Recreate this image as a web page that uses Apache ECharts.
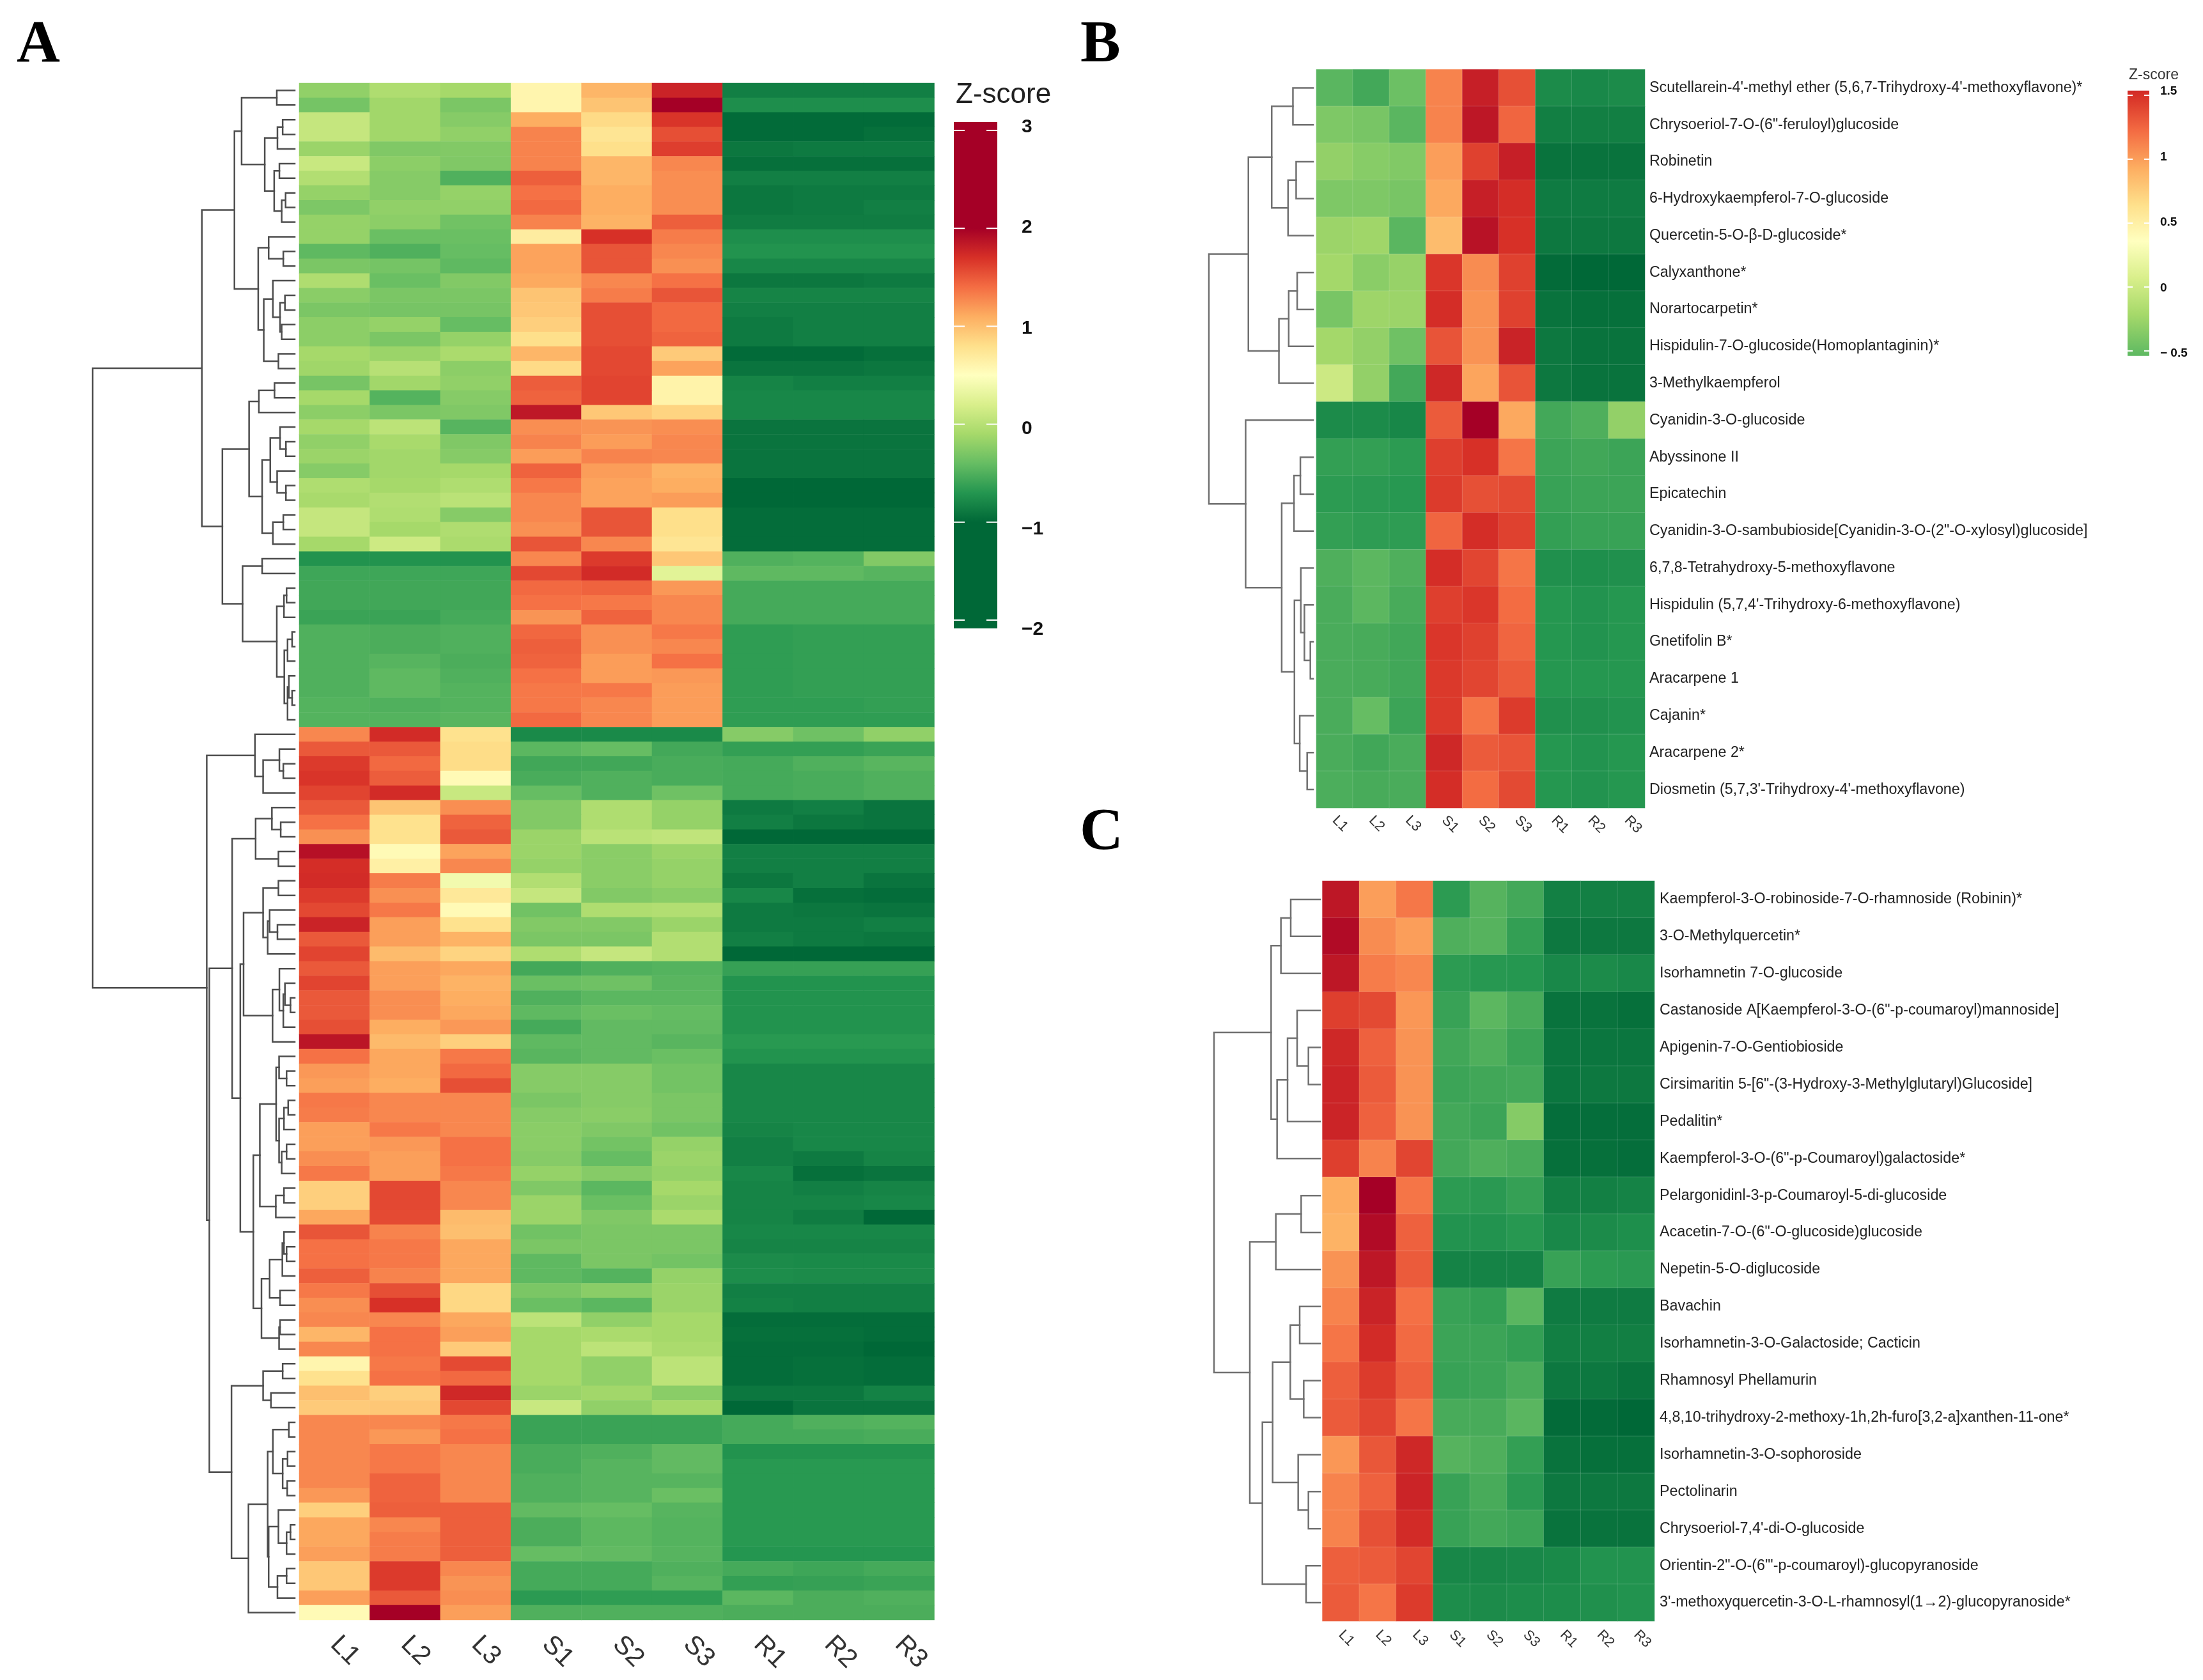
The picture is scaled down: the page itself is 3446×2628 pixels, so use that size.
<!DOCTYPE html>
<html><head><meta charset="utf-8">
<style>html,body{margin:0;padding:0;background:#fff}#c{width:3446px;height:2628px}</style>
<script src="https://cdn.jsdelivr.net/npm/echarts@6/dist/echarts.min.js"></script>
</head><body><div id="c"></div>
<script>
const samples = ['L1','L2','L3','S1','S2','S3','R1','R2','R3'];
const palette = ['#006837','#249650','#66BD63','#A6D96A','#D9EF8B','#FFFFBF','#FEE08B','#FDAE61','#F46D43','#D73027','#A50026'];

const valuesA = [
[-.2,-.05,-.1,.6,1.05,1.78,-.85,-.85,-.85],[-.33,-.12,-.3,.6,.97,2,-.75,-.75,-.75],
[.08,-.12,-.25,1.1,.83,1.68,-.98,-.98,-.98],[.08,-.12,-.2,1.3,.75,1.55,-.98,-.98,-.95],
[-.15,-.28,-.27,1.3,.8,1.63,-.9,-.88,-.88],[.1,-.22,-.28,1.3,1.05,1.28,-.95,-.95,-.95],
[-.03,-.25,-.5,1.47,1.05,1.25,-.85,-.85,-.85],[-.18,-.25,-.18,1.38,1.1,1.25,-.9,-.88,-.88],
[-.29,-.2,-.2,1.42,1.1,1.25,-.9,-.88,-.85],[-.18,-.22,-.35,1.3,1.07,1.47,-.87,-.87,-.87],
[-.18,-.38,-.38,.68,1.7,1.33,-.75,-.75,-.75],[-.43,-.5,-.4,1.15,1.52,1.28,-.72,-.72,-.72],
[-.3,-.33,-.43,1.15,1.52,1.24,-.8,-.8,-.8],[-.05,-.38,-.27,1.12,1.28,1.38,-.9,-.9,-.88],
[-.23,-.3,-.3,.97,1.33,1.52,-.82,-.82,-.82],[-.3,-.32,-.32,.95,1.55,1.42,-.85,-.85,-.85],
[-.22,-.18,-.4,.9,1.55,1.42,-.88,-.85,-.85],[-.22,-.3,-.18,.8,1.55,1.45,-.88,-.85,-.85],
[-.1,-.15,-.07,1.05,1.58,.93,-.98,-.98,-.95],[-.13,0,-.22,.83,1.58,1.15,-.92,-.92,-.9],
[-.32,-.12,-.2,1.48,1.6,.62,-.82,-.85,-.85],[-.1,-.48,-.25,1.45,1.6,.62,-.8,-.8,-.8],
[-.22,-.3,-.28,1.85,.95,.87,-.8,-.8,-.8],[-.1,.03,-.47,1.25,1.22,1.25,-.92,-.92,-.92],
[-.2,-.08,-.28,1.3,1.18,1.28,-.92,-.92,-.92],[-.15,-.12,-.25,1.18,1.3,1.28,-.92,-.92,-.92],
[-.25,-.12,-.1,1.45,1.18,1.07,-.92,-.92,-.92],[-.05,-.1,-.05,1.35,1.15,1.1,-1,-1,-1],
[-.08,-.03,.02,1.28,1.15,1.18,-1,-1,-1],[.08,-.05,-.25,1.28,1.52,.8,-.97,-.97,-.97],
[.08,-.1,-.05,1.24,1.52,.8,-.97,-.97,-.97],[-.1,.13,-.07,1.52,1.28,.75,-.97,-.97,-.97],
[-.72,-.72,-.72,1.28,1.65,.95,-.5,-.48,-.27],[-.58,-.58,-.58,1.58,1.73,.27,-.43,-.43,-.47],
[-.57,-.57,-.57,1.42,1.45,1.2,-.55,-.55,-.55],[-.57,-.57,-.57,1.38,1.35,1.28,-.55,-.55,-.55],
[-.6,-.6,-.55,1.22,1.45,1.28,-.55,-.55,-.55],[-.5,-.52,-.5,1.43,1.24,1.35,-.65,-.63,-.63],
[-.5,-.52,-.5,1.47,1.24,1.28,-.65,-.63,-.63],[-.5,-.47,-.52,1.45,1.18,1.38,-.65,-.63,-.63],
[-.5,-.43,-.5,1.38,1.18,1.2,-.65,-.63,-.63],[-.5,-.43,-.48,1.35,1.35,1.18,-.65,-.63,-.63],
[-.48,-.5,-.48,1.35,1.28,1.18,-.65,-.65,-.63],[-.48,-.48,-.46,1.42,1.28,1.18,-.65,-.65,-.65],
[1.28,1.73,.78,-.78,-.78,-.78,-.25,-.36,-.2],[1.5,1.5,.82,-.45,-.4,-.56,-.63,-.63,-.6],
[1.65,1.42,.82,-.57,-.57,-.53,-.55,-.5,-.46],[1.68,1.48,.55,-.53,-.5,-.53,-.55,-.53,-.5],
[1.6,1.73,.1,-.4,-.5,-.36,-.55,-.53,-.5],[1.5,.97,1.25,-.27,-.05,-.18,-.88,-.85,-.92],
[1.38,.78,1.45,-.27,-.05,-.18,-.85,-.9,-.92],[1.24,.78,1.5,-.15,.02,.05,-1,-1,-1],
[1.9,.55,1.15,-.15,-.23,-.15,-.85,-.85,-.85],[1.72,.65,1.28,-.18,-.23,-.18,-.85,-.85,-.85],
[1.73,1.33,.4,-.03,-.23,-.18,-.9,-.85,-.92],[1.65,1.24,.72,.08,-.27,-.23,-.8,-.95,-.97],
[1.58,1.35,.55,-.35,-.05,-.03,-.88,-.9,-.92],[1.78,1.17,.78,-.27,-.27,-.15,-.88,-.88,-.85],
[1.5,1.17,1.07,-.3,-.3,-.03,-.85,-.88,-.9],[1.6,1.02,.87,-.05,.08,-.03,-1,-1,-1],
[1.5,1.17,1.13,-.56,-.5,-.48,-.62,-.62,-.62],[1.6,1.17,1.07,-.38,-.36,-.46,-.72,-.72,-.72],
[1.5,1.25,1.1,-.5,-.45,-.45,-.72,-.72,-.72],[1.5,1.25,1.13,-.43,-.38,-.41,-.72,-.72,-.72],
[1.55,1.1,1.2,-.55,-.42,-.42,-.72,-.72,-.72],[1.87,1.03,.9,-.43,-.42,-.46,-.68,-.68,-.68],
[1.38,1.13,1.35,-.46,-.42,-.38,-.72,-.72,-.72],[1.2,1.13,1.42,-.25,-.25,-.34,-.8,-.8,-.8],
[1.17,1.1,1.55,-.25,-.25,-.34,-.8,-.8,-.8],[1.35,1.28,1.28,-.3,-.25,-.3,-.8,-.8,-.8],
[1.33,1.28,1.28,-.25,-.23,-.3,-.8,-.8,-.8],[1.17,1.35,1.28,-.23,-.28,-.35,-.82,-.8,-.8],
[1.17,1.2,1.38,-.23,-.34,-.18,-.85,-.8,-.8],[1.25,1.17,1.38,-.25,-.4,-.15,-.85,-.88,-.82],
[1.35,1.17,1.35,-.18,-.25,-.18,-.8,-.95,-.92],[.9,1.58,1.28,-.28,-.45,-.1,-.82,-.85,-.82],
[.9,1.58,1.28,-.15,-.38,-.15,-.82,-.82,-.8],[1.13,1.57,1.02,-.15,-.28,-.07,-.82,-.87,-1],
[1.52,1.3,1,-.35,-.3,-.3,-.8,-.8,-.8],[1.38,1.35,1.13,-.3,-.3,-.3,-.82,-.82,-.82],
[1.38,1.35,1.13,-.43,-.3,-.34,-.77,-.78,-.78],[1.47,1.3,1.13,-.43,-.48,-.18,-.76,-.77,-.77],
[1.35,1.55,.85,-.3,-.23,-.15,-.85,-.85,-.85],[1.25,1.7,.85,-.38,-.45,-.15,-.83,-.85,-.85],
[1.28,1.28,1.13,.03,-.2,-.1,-.97,-.97,-.97],[1.05,1.38,1.17,-.1,-.07,-.1,-.95,-.95,-.97],
[1.28,1.38,.93,-.1,.03,-.07,-.97,-.97,-1],[.6,1.35,1.57,-.1,-.2,.03,-.97,-.95,-.97],
[.78,1.38,1.42,-.1,-.2,.03,-.97,-.95,-.97],[1,.9,1.75,-.15,-.12,-.23,-.9,-.9,-.83],
[.93,.95,1.58,.1,-.2,-.1,-1,-.92,-.92],[1.28,1.28,1.35,-.6,-.6,-.6,-.55,-.5,-.48],
[1.28,1.2,1.38,-.6,-.6,-.6,-.55,-.55,-.53],[1.28,1.35,1.28,-.53,-.5,-.42,-.72,-.72,-.72],
[1.28,1.35,1.28,-.53,-.47,-.42,-.68,-.68,-.68],[1.28,1.45,1.28,-.5,-.47,-.47,-.68,-.68,-.68],
[1.2,1.45,1.28,-.5,-.47,-.38,-.68,-.68,-.68],[.9,1.47,1.47,-.42,-.4,-.47,-.68,-.68,-.68],
[1.13,1.28,1.47,-.52,-.44,-.48,-.68,-.68,-.68],[1.13,1.33,1.47,-.52,-.44,-.48,-.68,-.68,-.68],
[1.17,1.33,1.47,-.4,-.42,-.47,-.7,-.7,-.7],[.95,1.65,1.28,-.55,-.55,-.5,-.55,-.58,-.55],
[.95,1.65,1.22,-.55,-.55,-.47,-.63,-.62,-.6],[1.17,1.5,1.25,-.67,-.65,-.65,-.45,-.52,-.5],
[.55,2,1.17,-.5,-.5,-.5,-.52,-.52,-.52]];

const namesB = ["Scutellarein-4'-methyl ether (5,6,7-Trihydroxy-4'-methoxyflavone)*",'Chrysoeriol-7-O-(6"-feruloyl)glucoside','Robinetin','6-Hydroxykaempferol-7-O-glucoside','Quercetin-5-O-β-D-glucoside*','Calyxanthone*','Norartocarpetin*','Hispidulin-7-O-glucoside(Homoplantaginin)*','3-Methylkaempferol','Cyanidin-3-O-glucoside','Abyssinone II','Epicatechin','Cyanidin-3-O-sambubioside[Cyanidin-3-O-(2"-O-xylosyl)glucoside]','6,7,8-Tetrahydroxy-5-methoxyflavone',"Hispidulin (5,7,4'-Trihydroxy-6-methoxyflavone)",'Gnetifolin B*','Aracarpene 1','Cajanin*','Aracarpene 2*',"Diosmetin (5,7,3'-Trihydroxy-4'-methoxyflavone)"];
const valuesB = [
[-.55,-.65,-.47,1.12,1.6,1.35,-.85,-.87,-.85],[-.39,-.42,-.55,1.12,1.65,1.25,-.93,-.93,-.93],
[-.3,-.35,-.38,1,1.42,1.6,-1,-1,-1],[-.39,-.39,-.42,.95,1.6,1.52,-.95,-.95,-.95],
[-.26,-.24,-.55,.85,1.68,1.5,-.97,-.97,-.97],[-.22,-.34,-.28,1.47,1.08,1.42,-1.05,-1.07,-1.07],
[-.42,-.25,-.26,1.52,1.05,1.42,-1,-1.02,-1.02],[-.22,-.3,-.46,1.33,1.05,1.58,-.97,-1,-1],
[0,-.3,-.65,1.55,.97,1.33,-.97,-1,-1],[-.85,-.85,-.88,1.3,1.786,.95,-.65,-.6,-.3],
[-.72,-.72,-.75,1.43,1.5,1.18,-.68,-.66,-.68],[-.75,-.76,-.77,1.45,1.35,1.38,-.7,-.68,-.68],
[-.72,-.74,-.74,1.25,1.52,1.42,-.72,-.7,-.7],[-.6,-.54,-.6,1.52,1.4,1.18,-.82,-.83,-.82],
[-.62,-.54,-.63,1.43,1.47,1.22,-.78,-.8,-.78],[-.62,-.63,-.66,1.47,1.42,1.25,-.78,-.8,-.78],
[-.62,-.63,-.66,1.46,1.4,1.3,-.78,-.78,-.78],[-.62,-.5,-.68,1.46,1.18,1.45,-.82,-.82,-.8],
[-.62,-.66,-.62,1.55,1.3,1.33,-.78,-.8,-.78],[-.61,-.63,-.62,1.52,1.22,1.38,-.78,-.8,-.78]];

const namesC = ['Kaempferol-3-O-robinoside-7-O-rhamnoside (Robinin)*','3-O-Methylquercetin*','Isorhamnetin 7-O-glucoside','Castanoside A[Kaempferol-3-O-(6"-p-coumaroyl)mannoside]','Apigenin-7-O-Gentiobioside','Cirsimaritin 5-[6"-(3-Hydroxy-3-Methylglutaryl)Glucoside]','Pedalitin*','Kaempferol-3-O-(6"-p-Coumaroyl)galactoside*','Pelargonidinl-3-p-Coumaroyl-5-di-glucoside','Acacetin-7-O-(6"-O-glucoside)glucoside','Nepetin-5-O-diglucoside','Bavachin','Isorhamnetin-3-O-Galactoside; Cacticin','Rhamnosyl Phellamurin','4,8,10-trihydroxy-2-methoxy-1h,2h-furo[3,2-a]xanthen-11-one*','Isorhamnetin-3-O-sophoroside','Pectolinarin',"Chrysoeriol-7,4'-di-O-glucoside",'Orientin-2"-O-(6\'"-p-coumaroyl)-glucopyranoside',"3'-methoxyquercetin-3-O-L-rhamnosyl(1→2)-glucopyranoside*"];
const valuesC = [
[1.65,1,1.17,-.75,-.57,-.65,-.92,-.92,-.92],[1.72,1.08,1,-.6,-.57,-.72,-.97,-.97,-.97],
[1.65,1.15,1.1,-.75,-.77,-.78,-.87,-.85,-.87],[1.43,1.38,1.03,-.7,-.54,-.63,-1,-1,-1.02],
[1.55,1.27,1.05,-.66,-.6,-.69,-.98,-.98,-.98],[1.57,1.3,1.05,-.68,-.66,-.65,-.98,-.97,-.97],
[1.57,1.27,1.05,-.65,-.68,-.36,-1.03,-1.03,-1.03],[1.43,1.12,1.4,-.65,-.6,-.63,-1.02,-1.02,-1.03],
[.93,1.786,1.18,-.75,-.76,-.71,-.92,-.92,-.9],[.9,1.72,1.27,-.8,-.8,-.77,-.87,-.85,-.83],
[1.05,1.65,1.3,-.9,-.9,-.9,-.7,-.75,-.76],[1.12,1.58,1.2,-.7,-.72,-.55,-.95,-.95,-.95],
[1.18,1.53,1.23,-.68,-.68,-.72,-.93,-.93,-.93],[1.28,1.45,1.27,-.7,-.68,-.62,-.97,-.97,-1],
[1.3,1.4,1.18,-.63,-.63,-.55,-1.05,-1.05,-1.07],[1.03,1.32,1.55,-.57,-.6,-.72,-1,-1.02,-1.02],
[1.12,1.27,1.57,-.7,-.63,-.76,-.97,-.97,-.97],[1.12,1.35,1.53,-.7,-.65,-.68,-1,-1,-1],
[1.28,1.3,1.4,-.88,-.88,-.87,-.86,-.8,-.8],[1.3,1.18,1.45,-.84,-.85,-.84,-.84,-.82,-.8]];

// Row dendrograms: [merge height, upper child, lower child]; 0 is the next leaf.
const treeA = [620,
  [285,
    [185,
      [163,[55,0,0],[92,[53,[37,0,0],0],[63,[47,0,0],[40,[28,0,0],0]]]],
      [112,[80,0,[35,0,0]],[95,[67,0,[45,[30,0,0],[40,0,0]]],[50,0,0]]]],
    [222,
      [140,[110,[62,0,0],0],[100,[75,[45,0,[27,0,0]],[54,0,[27,0,0]]],[67,[35,0,0],0]]],
      [160,[100,0,0],[55,[33,[25,0,0],0],[32,[22,[8,0,0],0],[22,[18,0,[8,0,0]],0]]]]]],
  [270,
    [122,0,[97,[47,0,[35,0,0]],0]],
    [262,
      [192,
        [120,[70,0,[43,0,0]],[50,0,0]],
        [167,
          [157,
            [97,[50,0,0],[83,[77,0,[53,0,0]],0]],
            [68,[47,0,[35,[30,0,[13,0,0]],0]],0]],
          [127,
            [107,
              [57,[48,0,[25,0,0]],[48,[33,[20,0,0],0],[40,[25,0,0],0]]],
              [58,[33,0,0],0]],
            [102,
              [77,[38,[33,0,[25,0,0]],0],[45,0,0]],
              [48,[45,0,0],0]]]]],
      [194,
        [97,[37,0,0],[73,0,0]],
        [142,
          [83,
            [67,[18,0,0],[37,[22,0,0],[23,0,0]]],
            [80,[50,0,[25,[13,0,0],0]],[53,[25,0,0],0]]],
          0]]]]];
const treeB = [491,
  [305,
    [195,[95,0,0],[118,[80,0,0],0]],
    [161,[115,[75,0,0],0],0]],
  [318,0,
    [148,
      [90,[60,0,0],0],
      [88,[58,0,[41,0,[13,0,0]]],[63,0,[28,0,0]]]]]];
const treeC = [498,
  [230,
    [184,[138,0,0],0],
    [202,[153,[108,0,[55,0,0]],0],0]],
  [330,
    [208,[89,0,0],0],
    [271,
      [223,
        [140,[96,0,0],[77,0,0]],
        [103,0,[55,0,0]]],
      [66,0,0]]]];

const legendA = {lo:-1, hi:2, top:3.085, bottom:-2.085, ticks:[-2,-1,0,1,2,3], labels:['−2','−1','0','1','2','3']};
const legendB = {lo:-1.07, hi:1.786, top:1.537, bottom:-0.539, ticks:[-0.5,0,0.5,1,1.5], labels:['− 0.5','0','0.5','1','1.5']};

const grid=[], xAxis=[], yAxis=[], series=[], visualMap=[], graphic=[];

function addGrid(g, x, y){ grid.push(g); const i=grid.length-1;
  xAxis.push(Object.assign({gridIndex:i},x)); yAxis.push(Object.assign({gridIndex:i},y)); return i; }

function nodes(tree){ let leaf=0; const out=[];
  (function walk(n){
    if(n===0){ return {h:0,y:leaf++ + 0.5}; }
    const a=walk(n[1]), b=walk(n[2]);
    out.push([n[0],a.y,a.h,b.y,b.h]);
    return {h:n[0],y:(a.y+b.y)/2};
  })(tree);
  return out; }

function dendro(tree, rows, box, color, lw){
  const i=addGrid(box,
    {type:'value',inverse:true,min:0,max:tree[0],show:false},
    {type:'value',inverse:true,min:0,max:rows,show:false});
  series.push({type:'custom',xAxisIndex:i,yAxisIndex:i,silent:true,clip:false,
    data:nodes(tree),encode:{x:[0,2],y:[1,3]},animation:false,
    renderItem(p,api){
      const h=api.value(0),y1=api.value(1),h1=api.value(2),y2=api.value(3),h2=api.value(4);
      return {type:'polyline',shape:{points:[api.coord([h1,y1]),api.coord([h,y1]),api.coord([h,y2]),api.coord([h2,y2])]},
        style:{stroke:color,lineWidth:lw,fill:null,lineJoin:'miter',lineCap:'square'}};
    }});
}

function heat(values, names, box, lo, hi, opt){
  const i=addGrid(box,
    {type:'category',data:samples,position:'bottom',axisLine:{show:false},axisTick:{show:false},splitLine:{show:false},
      axisLabel:{interval:0,rotate:-45,fontFamily:'Liberation Sans',fontSize:opt.colFont,color:opt.colColor,margin:opt.colMargin}},
    {type:'category',inverse:true,position:'right',data:names||values.map((_,k)=>String(k+1)),axisLine:{show:false},axisTick:{show:false},splitLine:{show:false},
      axisLabel:{show:!!names,interval:0,fontFamily:'Liberation Sans',fontSize:opt.rowFont||10,color:'#222',margin:opt.rowMargin||0,padding:[4,0,0,0]}});
  const data=[]; values.forEach((r,y)=>r.forEach((v,x)=>data.push([x,y,v])));
  series.push({type:'heatmap',xAxisIndex:i,yAxisIndex:i,data,progressive:0,animation:false,
    itemStyle:{borderWidth:opt.border?1:0,borderColor:opt.border||'transparent'},emphasis:{disabled:true}});
  visualMap.push({show:false,type:'continuous',seriesIndex:series.length-1,dimension:2,min:lo,max:hi,inRange:{color:palette}});
}

function hexToStops(leg){
  const span=leg.top-leg.bottom, st=[];
  palette.forEach((c,k)=>{ const v=leg.lo+(leg.hi-leg.lo)*k/(palette.length-1);
    const off=(leg.top-v)/span; if(off>=0&&off<=1) st.push({offset:off,color:c}); });
  st.sort((a,b)=>a.offset-b.offset);
  const col=v=>{ const t=Math.max(0,Math.min(1,(v-leg.lo)/(leg.hi-leg.lo)))*(palette.length-1);
    const a=Math.floor(t),b=Math.min(a+1,palette.length-1),f=t-a;
    const p=h=>[1,3,5].map(o=>parseInt(h.substr(o,2),16));
    const A=p(palette[a]),B=p(palette[b]);
    return 'rgb('+A.map((x,q)=>Math.round(x+(B[q]-x)*f)).join(',')+')'; };
  st.unshift({offset:0,color:col(leg.top)}); st.push({offset:1,color:col(leg.bottom)});
  return st;
}

function legendBar(leg, box, tickLen, labelBox, fontSize, margin, interval){
  const i=addGrid(box,{type:'value',min:0,max:1,show:false},{type:'value',min:leg.bottom,max:leg.top,show:false});
  const stops=hexToStops(leg);
  series.push({type:'custom',xAxisIndex:i,yAxisIndex:i,silent:true,animation:false,
    data:[[0,leg.top,1,leg.bottom]],encode:{x:[0,2],y:[1,3]},
    renderItem(p,api){
      const a=api.coord([0,leg.top]), b=api.coord([1,leg.bottom]);
      const ch=[{type:'rect',shape:{x:a[0],y:a[1],width:b[0]-a[0],height:b[1]-a[1]},
        style:{fill:new echarts.graphic.LinearGradient(0,0,0,1,stops)}}];
      leg.ticks.forEach(t=>{ const c=api.coord([0,t]);
        ch.push({type:'line',shape:{x1:a[0],y1:c[1],x2:a[0]+tickLen,y2:c[1]},style:{stroke:'#fff',lineWidth:2}});
        ch.push({type:'line',shape:{x1:b[0]-tickLen,y1:c[1],x2:b[0],y2:c[1]},style:{stroke:'#fff',lineWidth:2}});
      });
      return {type:'group',children:ch};
    }});
  addGrid(labelBox,{type:'value',min:0,max:1,show:false},
    {type:'value',position:'right',min:leg.ticks[0],max:leg.ticks[leg.ticks.length-1],interval,
     axisLine:{show:false},axisTick:{show:false},splitLine:{show:false},
     axisLabel:{margin,fontFamily:'Liberation Sans',fontWeight:'bold',fontSize,color:'#111',
       formatter:v=>leg.labels[Math.round((v-leg.ticks[0])/interval)]}});
}

function text(t,x,y,font,color){ graphic.push({type:'text',x,y,silent:true,
  style:{text:t,font,fill:color,textAlign:'left',textVerticalAlign:'middle'}}); }

// Panel A
dendro(treeA,valuesA.length,{left:145,top:130,width:316,height:2404},'#4d4d4d',2.5);
heat(valuesA,null,{left:468,top:130,width:993.5,height:2404},legendA.lo,legendA.hi,{colFont:41,colColor:'#333',colMargin:32});
legendBar(legendA,{left:1492,top:191,width:68,height:792},17,{left:1492,top:199,width:68,height:786},30,38,1);
// Panel B
dendro(treeB,valuesB.length,{left:1891,top:108.5,width:163,height:1155.5},'#707070',2.5);
heat(valuesB,namesB,{left:2059,top:108.5,width:514,height:1155.5},legendB.lo,legendB.hi,{colFont:22,colColor:'#333',colMargin:16,rowFont:23.3,rowMargin:7,border:'rgba(255,255,255,0.14)'});
legendBar(legendB,{left:3328,top:141.7,width:34,height:415},8,{left:3328,top:143,width:34,height:410},19,17,0.5);
// Panel C
dendro(treeC,valuesC.length,{left:1899,top:1378,width:166,height:1158},'#707070',2.5);
heat(valuesC,namesC,{left:2068.5,top:1378,width:519.5,height:1158},legendB.lo,legendB.hi,{colFont:22,colColor:'#333',colMargin:18,rowFont:23.3,rowMargin:8,border:'rgba(255,255,255,0.14)'});

text('A',26,72,'bold 94px "Liberation Serif"','#000');
text('B',1690,72,'bold 94px "Liberation Serif"','#000');
text('C',1689,1304,'bold 94px "Liberation Serif"','#000');
text('Z-score',1495,149,'44px "Liberation Sans"','#222');
text('Z-score',3330,118,'23px "Liberation Sans"','#333');

const chart=echarts.init(document.getElementById('c'),null,{renderer:'canvas'});
chart.setOption({backgroundColor:'#fff',animation:false,grid,xAxis,yAxis,series,visualMap,graphic});
</script></body></html>
